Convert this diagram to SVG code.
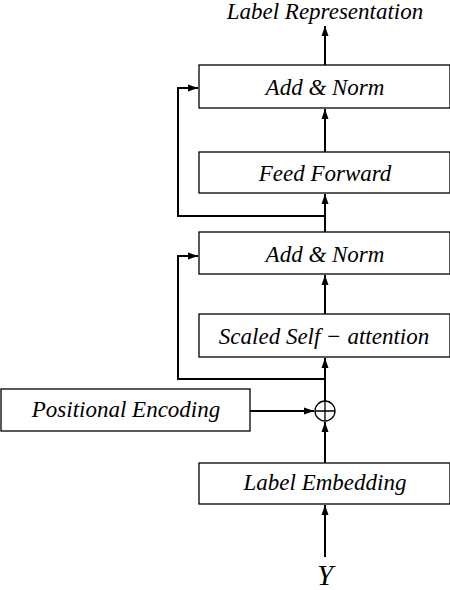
<svg xmlns="http://www.w3.org/2000/svg" width="450" height="590" viewBox="0 0 450 590">
<style>
.box{fill:#fff;stroke:#000;stroke-width:1.3}
.ln{fill:none;stroke:#000;stroke-width:2}
</style>
<defs>
<marker id="ah" viewBox="0 0 10 10" refX="10" refY="5" markerWidth="5" markerHeight="5" orient="auto" markerUnits="strokeWidth">
<path d="M0,1.5 L10,5 L0,8.5 Z" fill="#000"/>
</marker>
</defs>
<g id="connectors">
<path class="ln" d="M325,557 L325,505" marker-end="url(#ah)"/>
<path class="ln" d="M325,463 L325,422" marker-end="url(#ah)"/>
<path class="ln" d="M250,411 L314,411" marker-end="url(#ah)"/>
<path class="ln" d="M325,401 L325,358" marker-end="url(#ah)"/>
<path class="ln" d="M325,314 L325,275" marker-end="url(#ah)"/>
<path class="ln" d="M325,232 L325,194" marker-end="url(#ah)"/>
<path class="ln" d="M325,152 L325,109" marker-end="url(#ah)"/>
<path class="ln" d="M325,65 L325,26" marker-end="url(#ah)"/>
<path class="ln" d="M325,379 L178,379 L178,256 L198,256" marker-end="url(#ah)"/>
<path class="ln" d="M325,216 L178,216 L178,88 L198,88" marker-end="url(#ah)"/>
</g>
<g font-family="Liberation Serif" font-style="italic" font-size="23" text-anchor="middle" fill="#000">
<g id="label-representation"><text x="325" y="19">Label Representation</text></g>
<g id="add-norm-2"><rect class="box" x="199" y="65" width="251" height="43"/><text x="325" y="95">Add &amp; Norm</text></g>
<g id="feed-forward"><rect class="box" x="199" y="152" width="251" height="41"/><text x="325" y="181">Feed Forward</text></g>
<g id="add-norm-1"><rect class="box" x="199" y="232" width="251" height="42"/><text x="325" y="262">Add &amp; Norm</text></g>
<g id="scaled-self-attention"><rect class="box" x="199" y="314" width="251" height="43"/><text x="324" y="344">Scaled Self − attention</text></g>
<g id="positional-encoding"><rect class="box" x="1" y="389" width="249" height="42"/><text x="126" y="417">Positional Encoding</text></g>
<g id="add-circle"><circle cx="325" cy="411" r="10" fill="#fff" stroke="#000" stroke-width="1.3"/><path d="M315,411 L335,411 M325,401 L325,421" stroke="#000" stroke-width="1.3"/></g>
<g id="label-embedding"><rect class="box" x="199" y="463" width="251" height="41"/><text x="325" y="490">Label Embedding</text></g>
<g id="y-input"><text x="325" y="585" font-size="29">Y</text></g>
</g>
</svg>
